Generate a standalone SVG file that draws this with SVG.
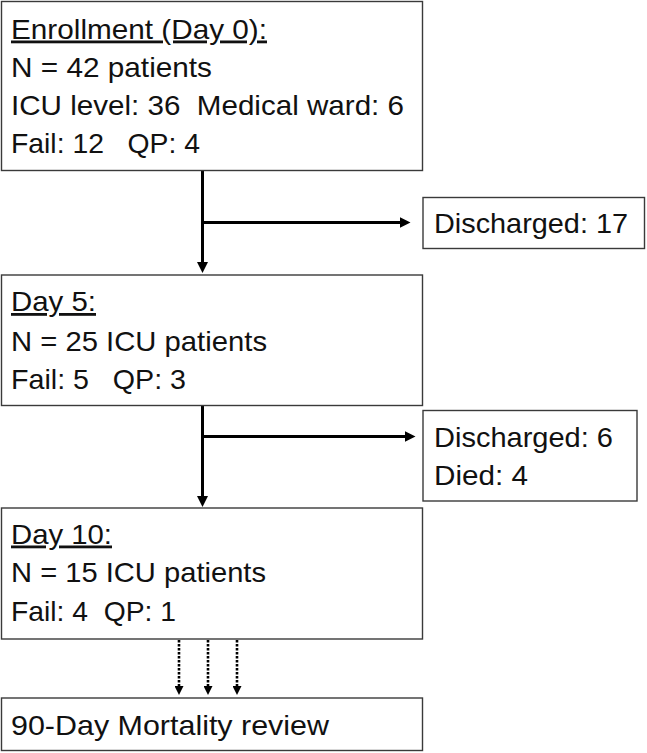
<svg xmlns="http://www.w3.org/2000/svg" width="647" height="753" viewBox="0 0 647 753">
<style>
.box{fill:#fff;stroke:#3a3a3a;stroke-width:1.4}
.t{font-family:"Liberation Sans",Arial,sans-serif;font-size:28px;fill:#111}
.u{text-decoration:underline}
.c{stroke:#000;stroke-width:3;fill:none}
.d{stroke:#000;stroke-width:2.6;fill:none;stroke-dasharray:2.5 1.5}
</style>
<defs>
<marker id="ah" viewBox="0 0 10 10" refX="5" refY="5" markerWidth="11" markerHeight="11" markerUnits="userSpaceOnUse" orient="auto">
<path d="M0,0 L10,5 L0,10 z" fill="#000"/>
</marker>
<marker id="ahs" viewBox="0 0 10 10" refX="5" refY="5" markerWidth="9" markerHeight="9" markerUnits="userSpaceOnUse" orient="auto">
<path d="M0,0 L10,5 L0,10 z" fill="#000"/>
</marker>
</defs>
<rect width="647" height="753" fill="#fff"/>
<g id="connectors">
<line class="c" x1="202.5" y1="171" x2="202.5" y2="267.5" marker-end="url(#ah)"/>
<line class="c" x1="202.5" y1="222.5" x2="405" y2="222.5" marker-end="url(#ah)"/>
<line class="c" x1="202.5" y1="406" x2="202.5" y2="501.5" marker-end="url(#ah)"/>
<line class="c" x1="202.5" y1="436.5" x2="410" y2="436.5" marker-end="url(#ah)"/>
<line class="d" x1="179" y1="640" x2="179" y2="690.5" marker-end="url(#ahs)"/>
<line class="d" x1="208" y1="640" x2="208" y2="690.5" marker-end="url(#ahs)"/>
<line class="d" x1="237" y1="640" x2="237" y2="690.5" marker-end="url(#ahs)"/>
</g>
<g id="enrollment">
<rect class="box" x="1.5" y="1.5" width="421" height="169"/>
<text class="t u" x="11" y="38.5" textLength="256" lengthAdjust="spacingAndGlyphs">Enrollment (Day 0):</text>
<text class="t" x="11" y="76.5" textLength="201" lengthAdjust="spacingAndGlyphs">N = 42 patients</text>
<text class="t" x="11" y="114.5" textLength="393" lengthAdjust="spacingAndGlyphs" xml:space="preserve">ICU level: 36  Medical ward: 6</text>
<text class="t" x="11" y="152.5" textLength="189" lengthAdjust="spacingAndGlyphs" xml:space="preserve">Fail: 12   QP: 4</text>
</g>
<g id="discharged17">
<rect class="box" x="423" y="197.5" width="221.5" height="51"/>
<text class="t" x="434" y="232.5" textLength="194" lengthAdjust="spacingAndGlyphs">Discharged: 17</text>
</g>
<g id="day5">
<rect class="box" x="1.5" y="275" width="421" height="130.5"/>
<text class="t u" x="11" y="311" textLength="85" lengthAdjust="spacingAndGlyphs">Day 5:</text>
<text class="t" x="11" y="350.5" textLength="256" lengthAdjust="spacingAndGlyphs">N = 25 ICU patients</text>
<text class="t" x="11" y="388.5" textLength="175" lengthAdjust="spacingAndGlyphs" xml:space="preserve">Fail: 5   QP: 3</text>
</g>
<g id="discharged6">
<rect class="box" x="423" y="410.5" width="214" height="90.5"/>
<text class="t" x="434" y="447" textLength="179" lengthAdjust="spacingAndGlyphs">Discharged: 6</text>
<text class="t" x="434" y="484.5" textLength="94" lengthAdjust="spacingAndGlyphs">Died: 4</text>
</g>
<g id="day10">
<rect class="box" x="1.5" y="508" width="421" height="131"/>
<text class="t u" x="11" y="543.5" textLength="101" lengthAdjust="spacingAndGlyphs">Day 10:</text>
<text class="t" x="11" y="582" textLength="255" lengthAdjust="spacingAndGlyphs">N = 15 ICU patients</text>
<text class="t" x="11" y="620.5" textLength="165" lengthAdjust="spacingAndGlyphs" xml:space="preserve">Fail: 4  QP: 1</text>
</g>
<g id="mortality">
<rect class="box" x="1.5" y="698" width="421" height="52.5"/>
<text class="t" x="11" y="735" textLength="318" lengthAdjust="spacingAndGlyphs">90-Day Mortality review</text>
</g>
</svg>
